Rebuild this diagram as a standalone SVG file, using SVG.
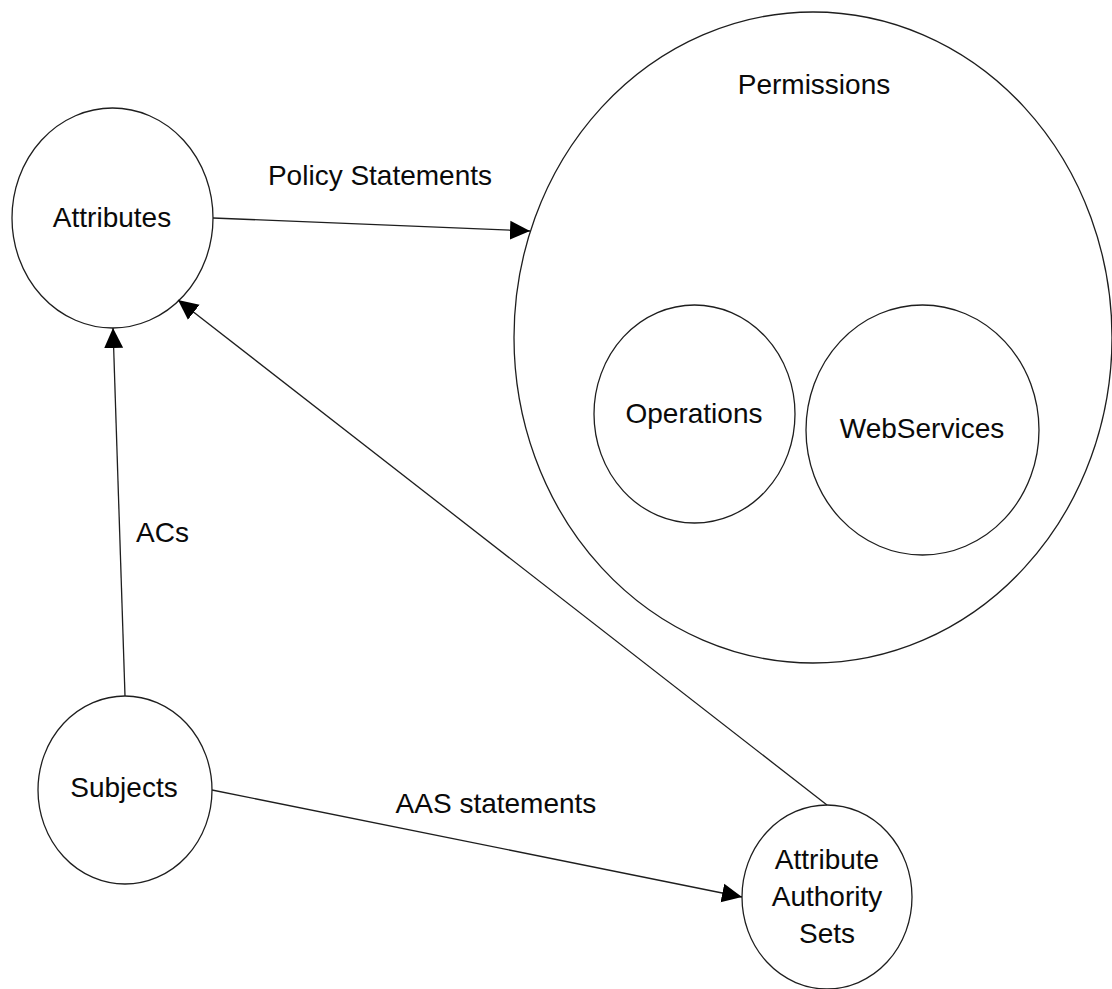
<svg xmlns="http://www.w3.org/2000/svg" width="1112" height="989" viewBox="0 0 1112 989">
  <style>
    .node { fill: #ffffff; stroke: #1e1e1e; stroke-width: 1.3; }
    .label { font-family: "Liberation Sans", Arial, sans-serif; font-size: 28px; fill: #0a0a0a; text-anchor: middle; }
    .edge { fill: none; stroke: #1e1e1e; stroke-width: 1.3; }
  </style>
  <defs>
    <marker id="arrow" markerUnits="userSpaceOnUse" markerWidth="20" markerHeight="20" viewBox="0 0 20 20" refX="20" refY="10" orient="auto">
      <path d="M0,0.5 L20,10 L0,19.5 Z" fill="#000000"/>
    </marker>
  </defs>
  <rect width="1112" height="989" fill="#ffffff"/>

  <!-- Permissions container with its two members -->
  <g id="permissions">
    <ellipse class="node" cx="813" cy="337.5" rx="299" ry="325.5"/>
    <text class="label" x="814" y="94">Permissions</text>
  </g>
  <g id="operations">
    <ellipse class="node" cx="694.5" cy="414" rx="100.5" ry="109"/>
    <text class="label" x="694" y="423">Operations</text>
  </g>
  <g id="webservices">
    <ellipse class="node" cx="922.5" cy="430" rx="116.5" ry="125"/>
    <text class="label" x="922" y="438">WebServices</text>
  </g>

  <g id="attributes">
    <ellipse class="node" cx="112.5" cy="218" rx="100.5" ry="110"/>
    <text class="label" x="112" y="227">Attributes</text>
  </g>

  <g id="subjects">
    <ellipse class="node" cx="125" cy="790" rx="87" ry="94"/>
    <text class="label" x="124" y="797">Subjects</text>
  </g>

  <g id="attribute-authority-sets">
    <ellipse class="node" cx="827" cy="897" rx="85" ry="92"/>
    <text class="label" x="827" y="869">Attribute</text>
    <text class="label" x="827" y="906">Authority</text>
    <text class="label" x="827" y="943">Sets</text>
  </g>

  <!-- Connectors -->
  <g id="connectors">
    <line class="edge" x1="213" y1="218" x2="530" y2="231" marker-end="url(#arrow)"/>
    <line class="edge" x1="125" y1="696" x2="113" y2="328" marker-end="url(#arrow)"/>
    <line class="edge" x1="827" y1="805" x2="178" y2="300" marker-end="url(#arrow)"/>
    <line class="edge" x1="212" y1="790" x2="742" y2="897" marker-end="url(#arrow)"/>
    <text class="label" x="380" y="185">Policy Statements</text>
    <text class="label" x="136" y="542" style="text-anchor:start">ACs</text>
    <text class="label" x="496" y="813">AAS statements</text>
  </g>
</svg>
